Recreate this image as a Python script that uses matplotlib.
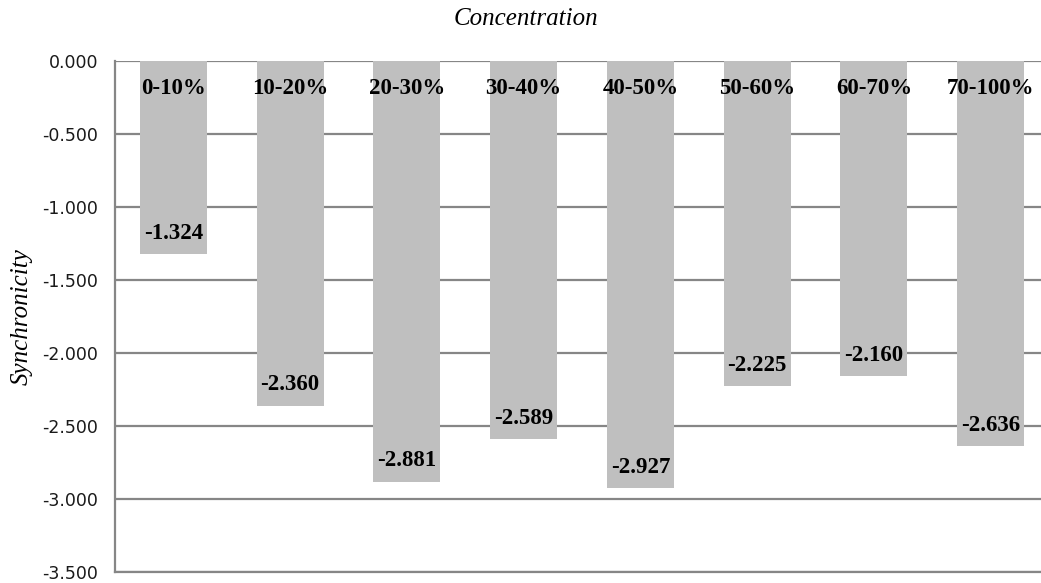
import matplotlib
matplotlib.use("Agg")
import matplotlib.pyplot as plt
from matplotlib.ticker import MultipleLocator, FuncFormatter

categories = ["0-10%", "10-20%", "20-30%", "30-40%", "40-50%", "50-60%", "60-70%", "70-100%"]
values = [-1.324, -2.360, -2.881, -2.589, -2.927, -2.225, -2.160, -2.636]

W, H = 1041, 583
fig = plt.figure(figsize=(W / 100, H / 100), dpi=100)
# plot area spans x 115..1049 px, y 61..572 px
ax = fig.add_axes([115 / W, (H - 572) / H, 934 / W, 511 / H])

x = range(len(categories))
ax.bar(x, values, width=0.575, color="#bfbfbf", zorder=2)

ax.set_xlim(-0.5, len(categories) - 0.5)
ax.set_ylim(-3.5, 0)
ax.yaxis.set_major_locator(MultipleLocator(0.5))
ax.yaxis.set_major_formatter(FuncFormatter(lambda v, p: f"{v:.3f}"))
ax.grid(axis="y", color="#868686", linewidth=1.6, zorder=0)
ax.set_xticks([])
ax.tick_params(axis="y", length=0, pad=12, labelsize=12.5, labelcolor="#1a1a1a")
for lab in ax.get_yticklabels():
    lab.set_family("DejaVu Sans")

for side in ("top", "right"):
    ax.spines[side].set_visible(False)
for side in ("left", "bottom"):
    ax.spines[side].set_color("#868686")
    ax.spines[side].set_linewidth(1.6)

serif = "Liberation Serif"
for i, (c, v) in enumerate(zip(categories, values)):
    ax.annotate(c, (i, 0), xytext=(0, -19.5), textcoords="offset points",
                ha="center", va="center", fontsize=16.5, fontweight="bold",
                family=serif, zorder=3)
    ax.annotate(f"{v:.3f}", (i, v), xytext=(0, 15), textcoords="offset points",
                ha="center", va="center", fontsize=16.5, fontweight="bold",
                family=serif, zorder=3)

fig.text(526 / W, 1 - 19 / H, "Concentration", ha="center", va="center",
         fontsize=18, style="italic", family=serif)
fig.text(22 / W, 1 - 317 / H, "Synchronicity", ha="center", va="center",
         rotation=90, fontsize=18, style="italic", family=serif)

fig.savefig("out.png", dpi=100)
